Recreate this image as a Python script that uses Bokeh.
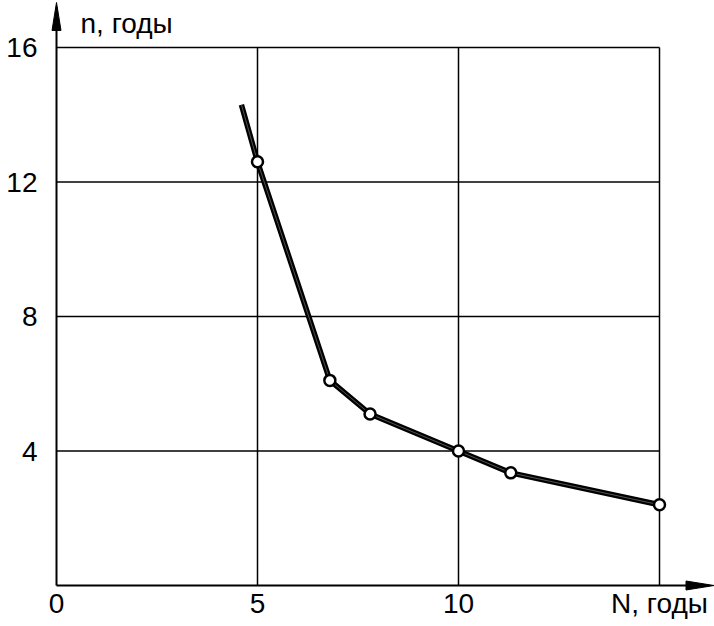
from bokeh.plotting import figure
from bokeh.models import Range1d, FixedTicker, Label
from bokeh.embed import file_html
from bokeh.resources import INLINE

# data
N_years = [4.6, 5.0, 6.8, 7.8, 10.0, 11.3, 15.0]
n_years = [14.3, 12.6, 6.1, 5.1, 4.0, 3.35, 2.4]
marker_idx = [1, 2, 3, 4, 5, 6]

x_ticks = [0, 5, 10, 15]
y_ticks = [4, 8, 12, 16]
x_label = "N, годы"
y_label = "n, годы"

FONT = "Liberation Sans"
FS = "28px"

SX = 40.2     # px per x unit
SY = 33.625   # px per y unit
PAD = 6       # px of frame below / left of the axes (room for arrowheads)
FRAME_W, FRAME_H = 664, 591
x_start = -PAD / SX
y_start = -PAD / SY
x_end = x_start + FRAME_W / SX
y_end = y_start + FRAME_H / SY
x_max_grid = 15
y_max_grid = 16

p = figure(frame_width=FRAME_W, frame_height=FRAME_H,
           x_range=Range1d(x_start, x_end), y_range=Range1d(y_start, y_end),
           output_backend="svg", toolbar_location=None,
           min_border_left=50, min_border_right=0, min_border_top=0, min_border_bottom=0)
p.outline_line_color = None
p.xgrid.visible = False
p.ygrid.visible = False
p.background_fill_color = "white"
p.border_fill_color = "white"

for ax in (p.xaxis[0], p.yaxis[0]):
    ax.axis_line_color = None
    ax.major_tick_line_color = None
    ax.minor_tick_line_color = None
    ax.major_label_text_font = FONT
    ax.major_label_text_font_size = FS
    ax.major_label_text_color = "black"

p.xaxis.ticker = FixedTicker(ticks=x_ticks)
p.xaxis.major_label_overrides = {x_ticks[-1]: x_label}
p.xaxis.major_label_standoff = -10
p.yaxis.ticker = FixedTicker(ticks=y_ticks)
p.yaxis.major_label_standoff = 7

# grid segments (bounded box)
vx = [t for t in x_ticks if t > 0]
p.segment(x0=vx, y0=[0] * len(vx), x1=vx, y1=[y_max_grid] * len(vx),
          line_color="black", line_width=1.5)
p.segment(x0=[0] * len(y_ticks), y0=y_ticks, x1=[x_max_grid] * len(y_ticks), y1=y_ticks,
          line_color="black", line_width=1.5)

# axes with arrow heads (long narrow triangles)
L, HW = 28, 4.5
ytip = y_end - 2 / SY
xtip = x_end - 0.5 / SX
p.segment(x0=[0, 0], y0=[0, 0], x1=[0, xtip - 5 / SX], y1=[ytip - 5 / SY, 0],
          line_color="black", line_width=2)
p.patch([0, -HW / SX, HW / SX], [ytip, ytip - L / SY, ytip - L / SY],
        fill_color="black", line_color="black", line_width=1)
p.patch([xtip, xtip - L / SX, xtip - L / SX], [0, HW / SY, -HW / SY],
        fill_color="black", line_color="black", line_width=1)

# curve
p.line(N_years, n_years, line_color="black", line_width=5.5)
p.line(N_years, n_years, line_color="#777777", line_width=0.7)
p.scatter([N_years[i] for i in marker_idx], [n_years[i] for i in marker_idx],
          marker="circle", size=11, fill_color="white", line_color="black", line_width=2.5)

p.add_layout(Label(x=24 / SX, y=y_end - 23 / SY, text=y_label, text_font=FONT,
                   text_font_size=FS, text_color="black",
                   text_baseline="alphabetic", text_align="left"))

open("out.html", "w").write(file_html(p, INLINE))
